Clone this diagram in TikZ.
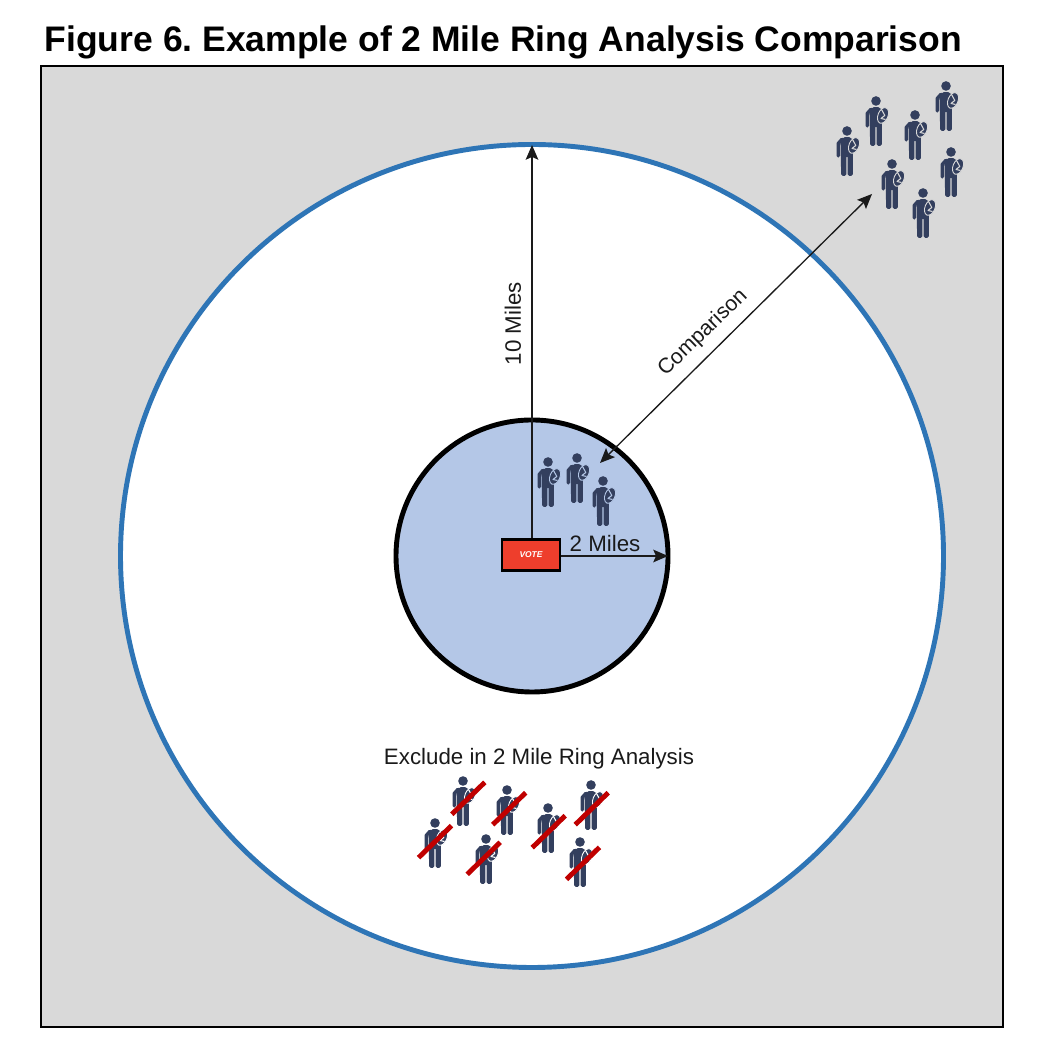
\documentclass[tikz,border=0pt]{standalone}
\usepackage{fontspec}
\setmainfont{Liberation Sans}
\usetikzlibrary{arrows.meta, positioning, calc}
\definecolor{panelgray}{HTML}{D9D9D9}
\definecolor{ringblue}{HTML}{2E75B6}
\definecolor{zoneblue}{HTML}{B4C7E7}
\definecolor{voterink}{HTML}{333F5E}
\definecolor{slashred}{HTML}{C00000}
\definecolor{votered}{HTML}{EE3E2C}
\definecolor{arrowink}{HTML}{1A1A1A}

\tikzset{
  >={Stealth[length=4.2pt, width=3.6pt, inset=0.8pt]},
  labeltext/.style={text=arrowink, font=\fontsize{6.35}{7}\selectfont, inner sep=0pt},
  distline/.style={arrowink, line width=0.38pt},
  pics/voter/.style={code={
    % head
    \fill[voterink] (0,0) circle (0.048);
    % trunk and legs
    \fill[voterink, rounded corners=0.5pt] (-0.066,-0.105) -- (-0.04,-0.062) -- (0.04,-0.062) -- (0.058,-0.1)
      -- (0.058,-0.45) -- (0.006,-0.45) -- (0.006,-0.245) -- (-0.006,-0.245) -- (-0.006,-0.45)
      -- (-0.058,-0.45) -- cycle;
    % arm
    \draw[voterink, line width=0.95pt, line cap=round, line join=round]
      (-0.05,-0.082) -- (-0.088,-0.125) -- (-0.088,-0.25);
    % satchel
    \fill[voterink, draw=#1, line width=0.25pt, rotate around={-22:(0.07,-0.145)}] (0.07,-0.145) ellipse (0.05 and 0.082);
    \draw[#1, line width=0.3pt, line join=round] (0.055,-0.085) -- (0.088,-0.145) -- (0.05,-0.175) -- (0.095,-0.185);
  }}
}

\begin{document}
\begin{tikzpicture}

\useasboundingbox (0,0) rectangle (10.36,10.60);

% Title
\node[anchor=west, inner sep=0pt, font=\fontsize{10.1}{11}\selectfont\bfseries\frenchspacing] (title) at (0.44,10.18)
  {Figure 6. Example of 2 Mile Ring Analysis Comparison};

% Panel
\fill[panelgray] (0.41,0.33) rectangle (10.03,9.94);
\draw[black, line width=0.5pt] (0.41,0.33) rectangle (10.03,9.94);

% --- Rings ---
\coordinate (center) at (5.32,5.04);
\fill[white] (center) circle (4.115);
\draw[ringblue, line width=1.4pt] (center) circle (4.115);
\fill[zoneblue] (center) circle (1.36);
\draw[black, line width=1.4pt] (center) circle (1.36);

% Arrow ends
\coordinate (tenmile) at (5.32,9.15);
\coordinate (twomile) at (6.68,5.04);
\coordinate (compnear) at (6.00,5.97);
\coordinate (compfar) at (8.72,8.66);

% Polling place
\node[draw=black, fill=votered, line width=0.7pt, minimum width=0.58cm, minimum height=0.31cm,
  inner sep=0pt, text=white, font=\fontsize{2.4}{3}\selectfont\bfseries\itshape] (vote) at (5.31,5.05) {VOTE};

% Distance arrows
\draw[distline, ->] (vote.north -| center) -- (tenmile);
\draw[distline, ->] (vote.east |- twomile) -- (twomile);
\draw[distline, <->] (compnear) -- (compfar);

% Labels
\node[labeltext, rotate=90] (tenlabel) at (5.13,7.365) {10 Miles};
\node[labeltext] (twolabel) at (6.05,5.16) {2 Miles};
\node[labeltext, font=\fontsize{6.05}{7}\selectfont, rotate=44] (complabel) at (7.03,7.27) {Comparison};
\node[labeltext] (excludelabel) at (5.39,3.01) {Exclude in 2 Mile Ring Analysis};

% Voters outside the ring
\foreach \x/\y in {8.47/9.29, 8.76/9.59, 9.15/9.45, 9.46/9.74, 8.92/8.96, 9.51/9.08, 9.23/8.67}
  \pic at (\x,\y) {voter=panelgray};

% Voters in the 2 mile ring
\foreach \x/\y in {5.48/5.98, 5.77/6.02, 6.03/5.79}
  \pic at (\x,\y) {voter=zoneblue};

% Excluded voters
\foreach \x/\y in {4.63/2.79, 5.07/2.70, 5.48/2.52, 5.91/2.75, 4.35/2.37, 4.86/2.21, 5.80/2.18}
  \pic at (\x,\y) {voter=white};

% Red slashes
\foreach \x/\y in {4.683/2.617, 5.092/2.513, 5.487/2.283, 5.917/2.513, 4.35/2.183, 4.837/2.017, 5.83/1.967}
  \draw[slashred, line width=1.4pt] (\x-0.165,\y-0.16) -- (\x+0.165,\y+0.16);

\end{tikzpicture}
\end{document}
